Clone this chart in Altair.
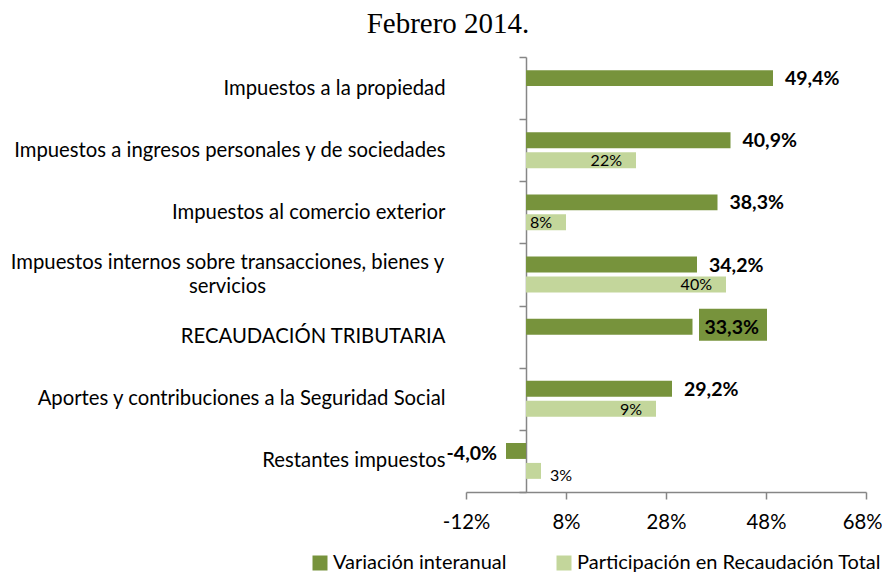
import altair as alt
import pandas as pd

categories = [
    "Impuestos a la propiedad",
    "Impuestos a ingresos personales y de sociedades",
    "Impuestos al comercio exterior",
    "Impuestos internos sobre transacciones, bienes y servicios",
    "RECAUDACIÓN TRIBUTARIA",
    "Aportes y contribuciones  a la Seguridad Social",
    "Restantes impuestos",
]
variacion = [49.4, 40.9, 38.3, 34.2, 33.3, 29.2, -4.0]
participacion = [None, 22, 8, 40, None, 26, 3]
participacion_labels = [None, "22%", "8%", "40%", None, "9%", "3%"]
series = ["Variación interanual", "Participación en Recaudación Total"]
x_ticks = [-12, 8, 28, 48, 68]
highlight = "RECAUDACIÓN TRIBUTARIA"
wrapped = "Impuestos internos sobre transacciones, bienes y servicios"
wrapped_lines = ["Impuestos internos sobre transacciones, bienes y", "servicios"]

rows = []
for c, v, p, pl in zip(categories, variacion, participacion, participacion_labels):
    rows.append({"cat": c, "serie": series[0], "value": v,
                 "label": f"{v:.1f}%".replace(".", ",")})
    if p is not None:
        rows.append({"cat": c, "serie": series[1], "value": p, "label": pl})
df = pd.DataFrame(rows)

FONT = "Lato"
GRAY = "#868686"
is_wrapped = f"datum.value == '{wrapped}'"
label_expr = (
    f"datum.label == '{wrapped}' ? "
    f"['{wrapped_lines[0]}', '{wrapped_lines[1]}'] : datum.label"
)
is_last = f"datum.value == {x_ticks[-1]}"

y_enc = alt.Y(
    "cat:N", sort=categories, title=None,
    scale=alt.Scale(paddingInner=0, paddingOuter=0),
    axis=alt.Axis(
        tickBand="extent", offset=-60, domainColor=GRAY, tickColor=GRAY,
        tickSize=7, domainWidth=1.5, tickWidth=1.5,
        labelPadding={"condition": {"test": is_wrapped, "value": 292}, "value": 74},
        labelAlign={"condition": {"test": is_wrapped, "value": "center"}, "value": "right"},
        labelOffset={"condition": {"test": is_wrapped, "value": -12}, "value": 0},
        labelFont=FONT, labelFontSize=20.3, labelColor="#000000",
        labelLimit=600, labelExpr=label_expr, labelLineHeight=24,
    ),
)
yoff = alt.YOffset("serie:N", sort=series,
                   scale=alt.Scale(paddingInner=0.2, paddingOuter=0.66))
x_enc = alt.X(
    "value:Q", title=None,
    scale=alt.Scale(domain=[-12, 68], nice=False, zero=False),
    axis=alt.Axis(
        values=x_ticks, labelExpr="datum.value + '%'", grid=False,
        labelFlush=False,
        labelAlign={"condition": {"test": is_last, "value": "right"}, "value": "center"},
        labelOffset={"condition": {"test": is_last, "value": 16}, "value": 0},
        domainColor=GRAY, tickColor=GRAY, tickSize=7, domainWidth=1.5,
        tickWidth=1.5, labelFont=FONT, labelFontSize=20.3,
        labelColor="#000000", labelPadding=13,
    ),
)

color = alt.Color(
    "serie:N", sort=series,
    scale=alt.Scale(domain=series, range=["#77933C", "#C3D69B"]),
    legend=alt.Legend(
        title=None, orient="none", legendX=-156, legendY=496,
        direction="horizontal", symbolType="square", symbolSize=225,
        symbolStrokeWidth=0, labelFont=FONT, labelFontSize=20,
        labelColor="#000000", columnPadding=47, labelOffset=3, padding=0,
        labelLimit=600,
    ),
)

base = alt.Chart(df)

bars = base.mark_bar().encode(y=y_enc, yOffset=yoff, x=x_enc, color=color)

box = base.transform_filter(
    (alt.datum.cat == highlight) & (alt.datum.serie == series[0])
).mark_bar(color="#77933C", height=32, yOffset=-12, xOffset=6.5, x2Offset=74.5).encode(
    y=alt.Y("cat:N", sort=categories),
    x=alt.X("value:Q"), x2=alt.X2("value"),
)

var_pos = base.transform_filter(
    (alt.datum.serie == series[0]) & (alt.datum.value >= 0)
).mark_text(align="left", dx=12, dy=1, font=FONT, fontSize=19.5,
            fontWeight="bold", color="#000000").encode(
    y=alt.Y("cat:N", sort=categories), yOffset=yoff, x="value:Q", text="label:N")

var_neg = base.transform_filter(
    (alt.datum.serie == series[0]) & (alt.datum.value < 0)
).mark_text(align="right", dx=-9, dy=3, font=FONT, fontSize=19.5,
            fontWeight="bold", color="#000000").encode(
    y=alt.Y("cat:N", sort=categories), yOffset=yoff, x="value:Q", text="label:N")

part_in = base.transform_filter(
    (alt.datum.serie == series[1]) & (alt.datum.value >= 5)
).mark_text(align="right", dx=-14, dy=1, font=FONT, fontSize=16,
            color="#000000").encode(
    y=alt.Y("cat:N", sort=categories), yOffset=yoff, x="value:Q", text="label:N")

part_out = base.transform_filter(
    (alt.datum.serie == series[1]) & (alt.datum.value < 5)
).mark_text(align="left", dx=9, dy=5, font=FONT, fontSize=16,
            color="#000000").encode(
    y=alt.Y("cat:N", sort=categories), yOffset=yoff, x="value:Q", text="label:N")

chart = alt.layer(bars, box, var_pos, var_neg, part_in, part_out).properties(
    width=400, height=435,
    title=alt.TitleParams(
        "Febrero 2014.", font="Liberation Serif", fontSize=29,
        fontWeight="normal", color="#000000", anchor="middle", dx=-218,
        offset=8,
    ),
    autosize=alt.AutoSizeParams(type="none"),
    padding={"left": 458, "top": 49, "right": 16, "bottom": 81},
).configure_view(stroke=None)

chart.save("out.html", embed_options={"renderer": "svg", "actions": False})
